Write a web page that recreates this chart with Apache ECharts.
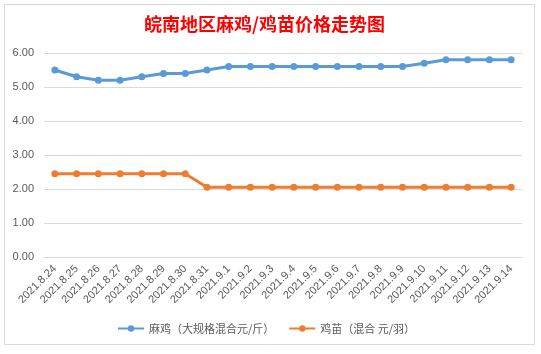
<!DOCTYPE html>
<html>
<head>
<meta charset="utf-8">
<script src="https://cdn.jsdelivr.net/npm/echarts@6/dist/echarts.min.js"></script>
<style>
  html, body { margin: 0; padding: 0; background: #fff; }
  #chart { width: 541px; height: 354px; }
</style>
</head>
<body>
<div id="chart"></div>
<script>
// 日期
var dates = [
  '2021.8.24', '2021.8.25', '2021.8.26', '2021.8.27', '2021.8.28', '2021.8.29', '2021.8.30', '2021.8.31',
  '2021.9.1', '2021.9.2', '2021.9.3', '2021.9.4', '2021.9.5', '2021.9.6', '2021.9.7', '2021.9.8',
  '2021.9.9', '2021.9.10', '2021.9.11', '2021.9.12', '2021.9.13', '2021.9.14'
];
// 麻鸡（大规格混合元/斤）
var majiPrice = [5.5, 5.3, 5.2, 5.2, 5.3, 5.4, 5.4, 5.5, 5.6, 5.6, 5.6, 5.6, 5.6, 5.6, 5.6, 5.6, 5.6, 5.7, 5.8, 5.8, 5.8, 5.8];
// 鸡苗（混合 元/羽）
var jimiaoPrice = [2.45, 2.45, 2.45, 2.45, 2.45, 2.45, 2.45, 2.05, 2.05, 2.05, 2.05, 2.05, 2.05, 2.05, 2.05, 2.05, 2.05, 2.05, 2.05, 2.05, 2.05, 2.05];

var seriesNames = ['麻鸡（大规格混合元/斤）', '鸡苗（混合 元/羽）'];

(function () {
  var chart = echarts.init(document.getElementById('chart'), null, { renderer: 'canvas' });
  var muted = '#595959';
  var rule = '#d9d9d9';

  chart.setOption({
    animation: false,
    backgroundColor: '#fff',
    color: ['#5b9bd5', '#ed7d31'],
    graphic: [{
      type: 'rect',
      left: 2, top: 2,
      shape: { width: 530, height: 340 },
      style: { fill: 'none', stroke: rule, lineWidth: 1 },
      silent: true
    }],
    title: {
      text: '皖南地区麻鸡/鸡苗价格走势图',
      left: 139,
      top: 10,
      textStyle: { color: '#ff0000', fontSize: 18, fontWeight: 600, fontFamily: 'Noto Sans CJK SC' }
    },
    legend: {
      bottom: 15,
      left: 112,
      itemWidth: 26,
      itemHeight: 8,
      itemGap: 14,
      textStyle: { color: muted, fontSize: 11, fontFamily: 'Noto Sans CJK SC' },
      data: seriesNames
    },
    grid: { left: 44, right: 19, top: 53, bottom: 97 },
    xAxis: {
      type: 'category',
      data: dates,
      boundaryGap: true,
      axisLine: { lineStyle: { color: rule } },
      axisTick: { show: false },
      axisLabel: { color: muted, fontSize: 11, rotate: 45, margin: 10, interval: 0, fontFamily: 'Liberation Sans' }
    },
    yAxis: {
      type: 'value',
      min: 0,
      max: 6,
      interval: 1,
      axisLine: { show: false },
      axisTick: { show: false },
      axisLabel: {
        color: muted, fontSize: 11, margin: 10, fontFamily: 'Liberation Sans',
        formatter: function (v) { return v.toFixed(2); }
      },
      splitLine: { lineStyle: { color: rule } }
    },
    series: [{
      name: seriesNames[0],
      type: 'line',
      data: majiPrice,
      symbol: 'circle',
      symbolSize: 7,
      lineStyle: { width: 3 }
    }, {
      name: seriesNames[1],
      type: 'line',
      data: jimiaoPrice,
      symbol: 'circle',
      symbolSize: 7,
      lineStyle: { width: 3 }
    }]
  });
})();
</script>
</body>
</html>
